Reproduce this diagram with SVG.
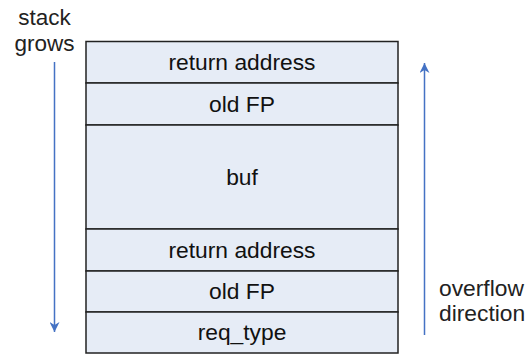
<svg xmlns="http://www.w3.org/2000/svg" width="529" height="354" viewBox="0 0 529 354">
<style>
.cell{fill:#e6ecf6;stroke:#222;stroke-width:1.5}
.t{font-family:"Liberation Sans",Arial,sans-serif;font-size:22.8px;fill:#111;text-anchor:middle}
.l{font-family:"Liberation Sans",Arial,sans-serif;font-size:22.8px;fill:#222}
.arr{stroke:#4472c4;stroke-width:1.5;fill:none}
</style>
<defs>
<marker id="ah" viewBox="0 0 10 10" refX="10" refY="5" markerWidth="10" markerHeight="10" markerUnits="userSpaceOnUse" orient="auto">
<path d="M0,0 L10,5 L0,10 L3,5 Z" fill="#4472c4"/>
</marker>
</defs>
<rect x="0" y="0" width="529" height="354" fill="#fff"/>
<g id="n1"><rect class="cell" x="86" y="41.5" width="312" height="41.5"/><text class="t" x="242" y="70">return address</text></g>
<g id="n2"><rect class="cell" x="86" y="83" width="312" height="42"/><text class="t" x="242" y="112">old FP</text></g>
<g id="n3"><rect class="cell" x="86" y="125" width="312" height="104"/><text class="t" x="242" y="185">buf</text></g>
<g id="n4"><rect class="cell" x="86" y="229" width="312" height="42"/><text class="t" x="242" y="258">return address</text></g>
<g id="n5"><rect class="cell" x="86" y="271" width="312" height="41"/><text class="t" x="242" y="299">old FP</text></g>
<g id="n6"><rect class="cell" x="86" y="312" width="312" height="41"/><text class="t" x="242" y="340">req_type</text></g>
<g id="labels">
<text class="l" x="44.5" y="25" text-anchor="middle" style="font-size:22.5px">stack</text>
<text class="l" x="44.5" y="51" text-anchor="middle" style="font-size:22.5px">grows</text>
<text class="l" x="439" y="296">overflow</text>
<text class="l" x="439" y="321">direction</text>
</g>
<g id="connectors">
<line class="arr" x1="54.5" y1="62" x2="54.5" y2="332" marker-end="url(#ah)"/>
<line class="arr" x1="424.5" y1="335" x2="424.5" y2="63" marker-end="url(#ah)"/>
</g>
</svg>
